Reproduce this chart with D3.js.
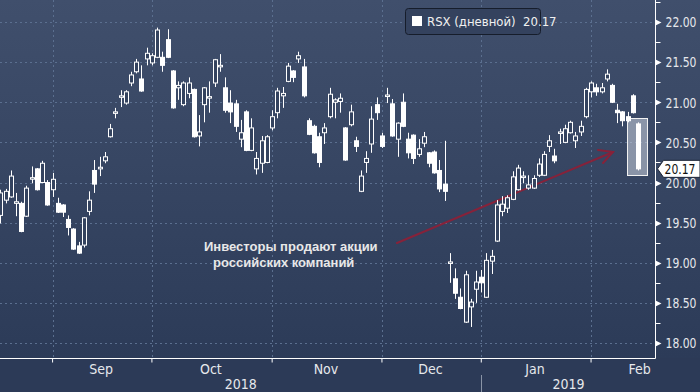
<!DOCTYPE html>
<html><head><meta charset="utf-8">
<script src="https://cdn.jsdelivr.net/npm/d3@7"></script>
<style>
html,body{margin:0;padding:0;background:#2c3a57;}
svg{display:block;}
</style></head>
<body>
<svg id="chart" width="700" height="392"></svg>
<script>
// ---------------- DATA ----------------
const seriesName = "RSX (дневной)";
const lastValue = 20.17;
const holidays = ["2018-09-03","2018-11-22","2018-12-05","2018-12-25","2019-01-01","2019-01-21"];
const startDate = "2018-08-20", endDate = "2019-02-14";
const monthLabels = ["Sep","Oct","Nov","Dec","Jan","Feb"];
const yearLabels = ["2018","2019"];
const yTicks = [18,18.5,19,19.5,20,20.5,21,21.5,22];
const annotationLines = ["Инвесторы продают акции","российских компаний"];

const open = [19.59,19.78,19.82,19.74,19.74,19.58,20.05,20.17,20.00,20.00,19.91,19.74,19.72,19.54,19.42,19.21,19.22,19.64,20.15,20.17,20.27,
 20.57,20.87,21.07,20.99,21.24,21.38,21.29,21.54,21.49,21.56,21.56,21.78,21.39,21.18,20.97,21.11,21.16,20.58,20.97,21.06,21.24,21.45,21.18,20.99,20.98,20.54,20.88,20.40,
 20.17,20.24,20.25,20.68,20.87,21.08,21.26,21.39,21.54,21.44,20.77,20.70,20.57,20.62,20.82,21.00,21.01,20.68,20.72,20.52,19.89,20.25,20.48,20.97,
 20.58,21.08,20.98,20.54,21.00,20.54,20.59,20.35,20.49,20.37,20.38,20.15,19.98,19.00,18.80,18.57,18.26,18.45,18.67,18.82,
 18.57,19.02,19.27,19.64,19.68,19.79,19.91,20.07,19.93,19.93,20.09,20.09,20.45,20.33,20.62,20.50,20.62,20.52,20.63,
 20.82,21.13,21.18,21.13,21.29,21.21,20.90,20.88,20.82,21.08,20.73];
const high = [19.91,19.92,20.15,19.87,19.76,19.96,20.20,20.18,20.27,20.03,20.12,19.81,19.73,19.59,19.43,19.26,19.57,19.89,20.28,20.32,20.38,
 20.73,20.93,21.15,21.15,21.38,21.54,21.46,21.68,21.61,21.93,21.63,21.91,21.40,21.26,21.26,21.31,21.17,20.84,21.19,21.26,21.54,21.60,21.31,21.15,21.03,20.78,20.90,20.80,
 20.38,20.58,20.59,20.90,21.18,21.19,21.49,21.40,21.63,21.54,20.80,20.72,20.62,20.74,21.18,21.05,21.11,20.69,20.97,20.57,20.15,20.39,20.95,21.06,
 20.62,21.18,21.04,20.75,21.11,20.62,20.60,20.54,20.63,20.38,20.40,20.28,20.52,19.12,18.93,18.68,18.90,18.55,18.90,18.91,
 19.12,19.16,19.78,19.83,19.84,20.14,20.22,20.14,20.09,20.09,20.30,20.39,20.59,20.42,20.67,20.72,20.77,20.63,20.77,
 21.18,21.26,21.23,21.24,21.41,21.23,20.98,20.89,20.88,21.10,20.75];
const low = [19.49,19.74,19.81,19.58,19.38,19.57,19.99,19.90,19.99,19.71,19.82,19.62,19.57,19.34,19.16,19.11,19.19,19.59,19.87,20.08,20.24,
 20.56,20.80,20.94,20.97,21.20,21.36,21.13,21.46,21.46,21.55,21.38,21.55,20.92,21.03,20.95,21.05,20.56,20.45,20.75,20.87,21.19,21.38,20.87,20.74,20.63,20.44,20.39,20.39,
 20.10,20.12,20.24,20.65,20.80,20.93,21.25,21.25,21.49,21.06,20.59,20.36,20.19,20.48,20.80,20.80,20.87,20.27,20.70,20.38,19.88,20.12,20.37,20.78,
 20.43,20.99,20.57,20.32,20.69,20.30,20.23,20.32,20.44,20.19,20.11,19.88,19.77,18.75,18.55,18.42,18.25,18.20,18.50,18.63,
 18.56,18.86,19.26,19.58,19.62,19.78,19.90,19.99,19.91,19.92,20.07,20.08,20.38,20.24,20.48,20.49,20.61,20.43,20.58,
 20.80,21.06,21.08,21.11,21.26,20.99,20.74,20.70,20.75,20.86,20.15];
const close = [19.87,19.89,20.08,19.76,19.39,19.93,20.06,19.91,20.24,19.72,20.04,19.63,19.63,19.44,19.17,19.12,19.56,19.78,19.98,20.19,20.32,
 20.67,20.88,21.08,21.13,21.34,21.50,21.14,21.61,21.58,21.90,21.46,21.56,20.93,21.21,21.24,21.24,20.57,20.63,21.18,21.07,21.53,21.46,20.90,20.88,20.70,20.62,20.40,20.68,
 20.30,20.52,20.57,20.82,21.14,21.11,21.45,21.31,21.58,21.08,20.60,20.37,20.25,20.68,21.10,21.03,21.05,20.28,20.88,20.45,20.08,20.30,20.79,20.87,
 20.45,21.09,20.58,20.74,20.70,20.37,20.30,20.42,20.57,20.24,20.12,19.92,19.89,19.01,18.62,18.43,18.85,18.51,18.76,18.75,
 19.03,19.08,19.72,19.73,19.81,20.07,20.18,20.08,19.97,20.05,20.23,20.35,20.52,20.27,20.63,20.67,20.75,20.58,20.70,
 21.16,21.24,21.13,21.18,21.35,21.00,20.87,20.77,20.77,20.87,20.17];

// trading days (categories)
const hol = new Set(holidays);
const fmt = d3.timeFormat("%Y-%m-%d");
const dates = d3.timeDay.range(new Date(startDate+"T00:00"), d3.timeDay.offset(new Date(endDate+"T00:00"),1))
  .filter(d => d.getDay()!==0 && d.getDay()!==6 && !hol.has(fmt(d)));
const data = dates.map((d,i)=>({date:d,o:open[i],h:high[i],l:low[i],c:close[i]}));

// ---------------- LAYOUT ----------------
const W=700,H=392, axisX=655.5, axisY=358.5;
const svg=d3.select("#chart");
const defs=svg.append("defs");
const grad=defs.append("linearGradient").attr("id","bg").attr("x1",0).attr("y1",0).attr("x2",0).attr("y2",1);
grad.append("stop").attr("offset","0%").attr("stop-color","#404f6c");
grad.append("stop").attr("offset","100%").attr("stop-color","#2c3b58");
svg.append("rect").attr("width",W).attr("height",axisY).attr("fill","url(#bg)");
svg.append("rect").attr("y",axisY).attr("width",W).attr("height",H-axisY).attr("fill","#2c3a57");

const x=d3.scaleBand().domain(dates).range([-2.31,640.72]).padding(0);
const bw=x.bandwidth();
const cx=d=>x(d)+bw/2;
const y=d3.scaleLinear().domain([18,22]).range([343,22]);

// month starts
const monthStarts=[];
dates.forEach((d,i)=>{ if(i>0 && d.getMonth()!==dates[i-1].getMonth()) monthStarts.push(i); });

const gridColor="#5b6f8f";
svg.append("g").selectAll("line").data(yTicks).join("line")
  .attr("x1",0).attr("x2",axisX).attr("y1",d=>Math.round(y(d))+0.5).attr("y2",d=>Math.round(y(d))+0.5)
  .attr("stroke",gridColor).attr("stroke-dasharray","2,3");
svg.append("g").selectAll("line").data(monthStarts).join("line")
  .attr("x1",i=>Math.round(cx(dates[i]))+0.5).attr("x2",i=>Math.round(cx(dates[i]))+0.5)
  .attr("y1",0).attr("y2",axisY).attr("stroke",gridColor).attr("stroke-dasharray","2,3");

// arrow annotation
const arrowColor="#8f1f36";
const ag=svg.append("g").attr("stroke",arrowColor).attr("stroke-width",2).attr("fill","none").attr("opacity",0.9).attr("stroke-linecap","round");
ag.append("line").attr("x1",397).attr("y1",243).attr("x2",613).attr("y2",152);
ag.append("polyline").attr("points","598,150 613,152 603,163");

// annotation text
const tf='"Liberation Sans", Arial, sans-serif';
svg.append("text").attr("x",204).attr("y",251).text(annotationLines[0])
  .attr("font-family",tf).attr("font-weight","bold").attr("font-size",13).attr("fill","#e8e8e8");
svg.append("text").attr("x",213).attr("y",267).text(annotationLines[1])
  .attr("font-family",tf).attr("font-weight","bold").attr("font-size",13).attr("fill","#e8e8e8");

// highlight box around last candle
const last=data[data.length-1];
svg.append("rect").attr("x",Math.round(cx(last.date))-10.5).attr("y",118.5).attr("width",20).attr("height",57)
  .attr("fill","rgba(220,225,235,0.5)").attr("stroke","#f2f2f2").attr("stroke-width",1);

// candles
const cg=svg.append("g");
const candle=cg.selectAll("g").data(data).join("g");
candle.append("line")
  .attr("x1",d=>Math.round(cx(d.date))+0.5).attr("x2",d=>Math.round(cx(d.date))+0.5)
  .attr("y1",d=>y(d.h)).attr("y2",d=>y(d.l)).attr("stroke","#ffffff").attr("stroke-width",1);
candle.append("rect")
  .attr("x",d=>Math.round(cx(d.date))-1.5).attr("width",4)
  .attr("y",d=>y(Math.max(d.o,d.c))).attr("height",d=>Math.max(1.5,Math.abs(y(d.o)-y(d.c))))
  .attr("fill",d=>d.c>=d.o?"#34435f":"#ffffff").attr("stroke","#ffffff").attr("stroke-width",1);

// axes
const af='"Liberation Sans Narrow","DejaVu Sans Condensed","Arial Narrow",sans-serif';
const txtCol="#e6e8ec";
svg.append("line").attr("x1",0).attr("x2",axisX).attr("y1",axisY).attr("y2",axisY).attr("stroke","#ffffff");
svg.append("line").attr("x1",axisX).attr("x2",axisX).attr("y1",0).attr("y2",axisY).attr("stroke","#ffffff");

const xAxis=d3.axisBottom(x).tickValues(monthStarts.map(i=>dates[i])).tickFormat("").tickSize(4).tickSizeOuter(0);
const gx=svg.append("g").attr("transform",`translate(0,${axisY})`).call(xAxis);
gx.select(".domain").remove();
gx.selectAll(".tick line").attr("stroke","#ffffff");

// month labels
const mPos=monthStarts.map((s,k)=>{
  const e = k<monthStarts.length-1 ? monthStarts[k+1] : s+19;
  return x.step()*((s+e)/2)+x(dates[0])+bw/2 - x.step()*0.5 + 1.5;
});
svg.append("g").selectAll("text").data(monthLabels).join("text")
  .attr("x",(d,i)=>Math.min(mPos[i],642)).attr("y",374).attr("text-anchor","middle")
  .attr("font-family",af).attr("font-size",14).attr("fill",txtCol).text(d=>d);
const yearSplit=Math.round(cx(dates[monthStarts[4]]))+0.5;
svg.append("line").attr("x1",yearSplit).attr("x2",yearSplit).attr("y1",375).attr("y2",392).attr("stroke","#8a94a6");
svg.append("text").attr("x",yearSplit/2).attr("y",389).attr("text-anchor","middle")
  .attr("font-family",af).attr("font-size",14).attr("fill",txtCol).text(yearLabels[0]);
svg.append("text").attr("x",(yearSplit+axisX)/2).attr("y",389).attr("text-anchor","middle")
  .attr("font-family",af).attr("font-size",14).attr("fill",txtCol).text(yearLabels[1]);

// y axis
const yAxis=d3.axisRight(y).tickValues(yTicks).tickFormat(d3.format(".2f")).tickSize(0).tickPadding(10);
const gy=svg.append("g").attr("transform",`translate(${axisX},0)`).call(yAxis);
gy.select(".domain").remove();
gy.selectAll("text").attr("font-family",af).attr("font-size",14).attr("fill",txtCol).attr("dy","0.34em")
  .attr("textLength",31).attr("lengthAdjust","spacingAndGlyphs");
svg.append("g").selectAll("path").data(yTicks).join("path")
  .attr("d",d=>{const yy=Math.round(y(d))+0.5;return `M${axisX},${yy-3}L${axisX+6},${yy}L${axisX},${yy+3}Z`;})
  .attr("fill","#ffffff");
const minor=d3.range(18.25,22.3,0.5);
svg.append("g").selectAll("line").data(minor).join("line")
  .attr("x1",axisX).attr("x2",axisX+5).attr("y1",d=>Math.round(y(d))+0.5).attr("y2",d=>Math.round(y(d))+0.5)
  .attr("stroke","#ffffff");

// last value tag
const ly=y(lastValue);
svg.append("path").attr("d",`M${axisX+2},${ly}L${axisX+8},${ly-8.5}L${W},${ly-8.5}L${W},${ly+8.5}L${axisX+8},${ly+8.5}Z`)
  .attr("fill","#ffffff").attr("stroke","#1e2638").attr("stroke-width",1);
svg.append("text").attr("x",axisX+9).attr("y",ly).attr("dy","0.36em")
  .attr("font-family",af).attr("font-size",14).attr("fill","#111111")
  .attr("textLength",31).attr("lengthAdjust","spacingAndGlyphs").text(d3.format(".2f")(lastValue));

// legend
const lg=svg.append("g");
lg.append("rect").attr("x",405.5).attr("y",8.5).attr("width",135).attr("height",26).attr("rx",3)
  .attr("fill","#34425e").attr("stroke","#161d2b");
lg.append("rect").attr("x",412).attr("y",16).attr("width",10).attr("height",10).attr("fill","#ffffff");
lg.append("text").attr("x",427).attr("y",21).attr("dy","0.36em").attr("font-family",af).attr("font-size",13)
  .attr("fill","#f0f0f0").text(seriesName+"  "+d3.format(".2f")(lastValue)).attr("xml:space","preserve");
</script>
</body></html>
